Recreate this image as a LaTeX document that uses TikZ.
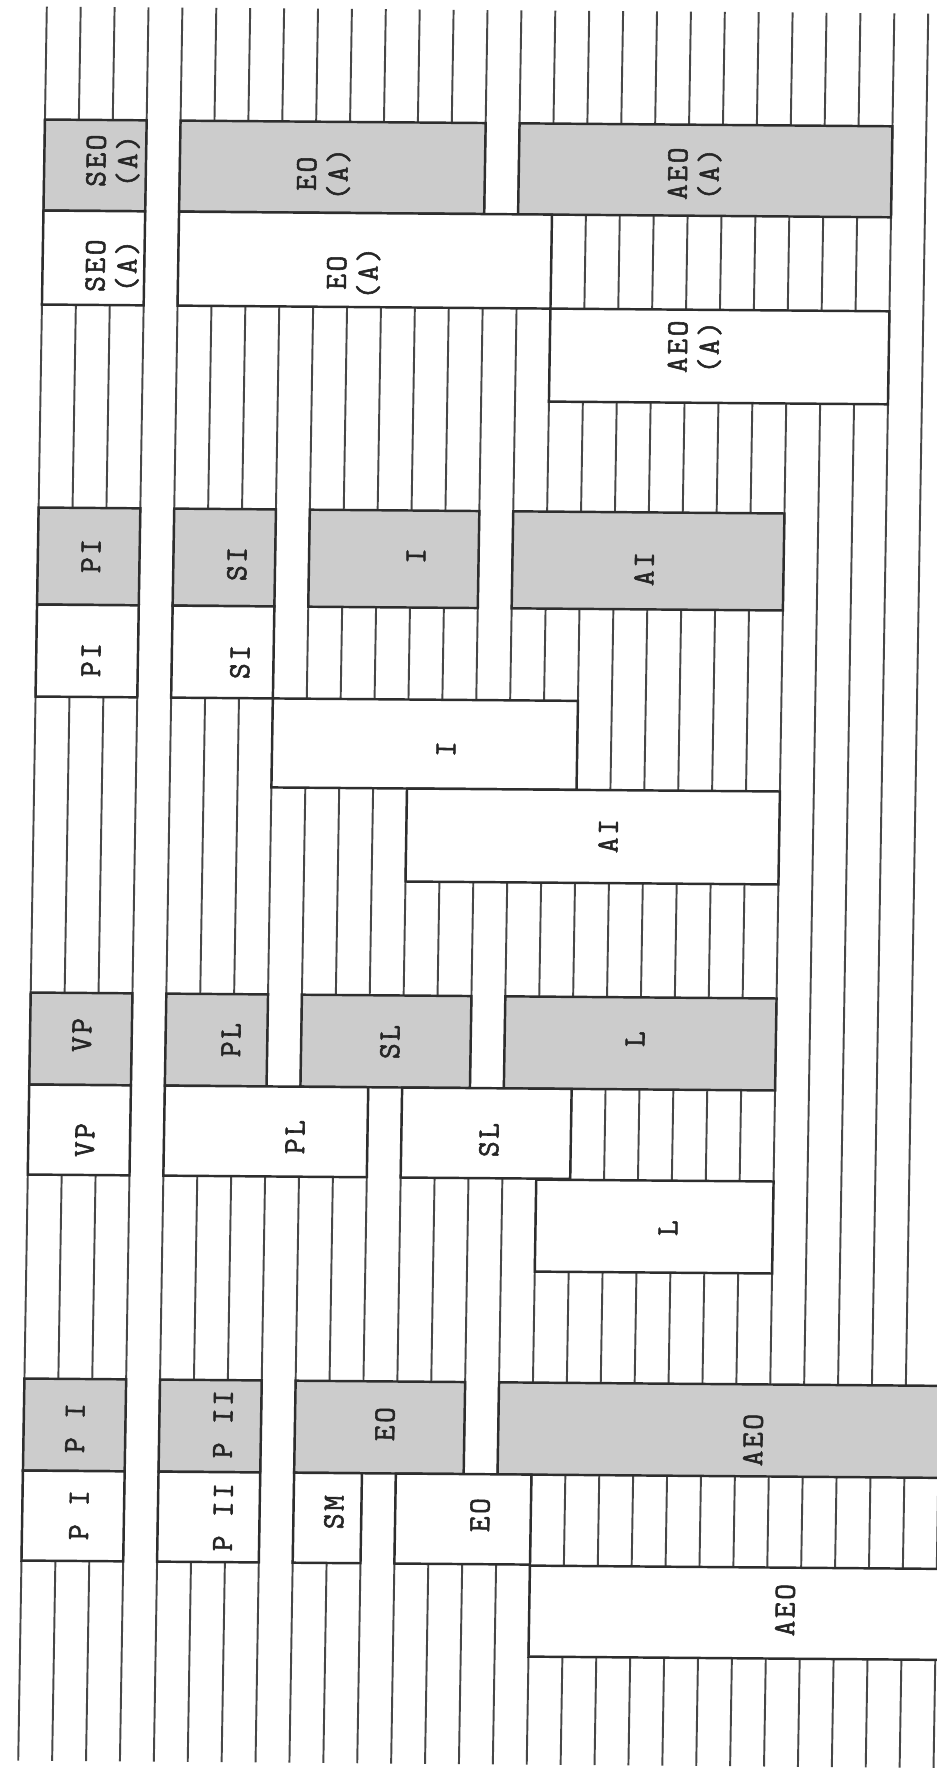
\documentclass[tikz,border=0pt]{standalone}
\usepackage{fontspec}
\newfontfamily\typew[LetterSpace=8,FakeBold=1.8]{Latin Modern Mono}
\tikzset{
  gridline/.style={draw=black!72, line width=1.1pt},
  shadebox/.style={draw=black!82, line width=1.4pt, fill=black!20},
  whitebox/.style={draw=black!82, line width=1.4pt, fill=white},
  lab/.style={font=\typew\fontsize{17.5pt}{18pt}\selectfont, text=black!85, rotate=89.1, align=center, inner sep=0pt}
}
\begin{document}
\begin{tikzpicture}[x=0.02cm,y=-0.02cm]
\useasboundingbox (0,0) rectangle (937,1776);
\clip (0,0) rectangle (937,1776);
\fill[white] (0,0) rectangle (937,1776);
\begin{scope}[cm={1,-0.008,0.0163,1,(0.2895cm,0.0749cm)}]
  % vertical ruled lines
  \foreach \k in {0,...,27}
    \draw[gridline] ({32.5+33.9*\k},10) -- ({32.5+33.9*\k},1764);
  % boxes: style / first line / last line / top / bottom
  \foreach \st/\a/\b/\t/\bt in {
    shadebox/0/3/123/214, shadebox/4/13/123/214, shadebox/14/25/123/214,
    whitebox/0/3/214/308, whitebox/4/15/214/308, whitebox/15/25/308/401,
    shadebox/0/3/511/608, shadebox/4/7/511/608, shadebox/8/13/511/608, shadebox/14/22/511/608,
    whitebox/0/3/608/700, whitebox/4/7/608/700, whitebox/7/16/700/789, whitebox/11/22/789/882,
    shadebox/0/3/996/1088, shadebox/4/7/996/1088, shadebox/8/13/996/1088, shadebox/14/22/996/1088,
    whitebox/0/3/1088/1178, whitebox/4/10/1088/1178, whitebox/11/16/1088/1178, whitebox/15/22/1179/1271,
    shadebox/0/3/1382/1474, shadebox/4/7/1382/1474, shadebox/8/13/1382/1474, shadebox/14/28.5/1382/1474,
    whitebox/0/3/1474/1564, whitebox/4/7/1474/1564, whitebox/8/10/1474/1564, whitebox/11/15/1474/1564,
    whitebox/15/28.5/1565/1656}
    \draw[\st] ({32.5+33.9*\a},\t) rectangle ({32.5+33.9*\b},\bt);
  % labels
  \node[lab] (l1) at (101.2,163.8) {SEO\\(A)};
  \node[lab] (l2) at (102.2,268.8) {SEO\\(A)};
  \node[lab] (l3) at (311.9,175.2) {EO\\(A)};
  \node[lab] (l4) at (682.9,172.2) {AEO\\(A)};
  \node[lab] (l5) at (343.5,273.9) {EO\\(A)};
  \node[lab] (l6) at (685.7,345.2) {AEO\\(A)};
  \node[lab] (l7) at (85.6,559) {PI};
  \node[lab] (l8) at (87.3,663) {PI};
  \node[lab] (l9) at (231.7,565.8) {SI};
  \node[lab] (l10) at (236.3,663.8) {SI};
  \node[lab] (l11) at (410.6,556.4) {I};
  \node[lab] (l12) at (638.8,567.6) {AI};
  \node[lab] (l13) at (443.7,749.2) {I};
  \node[lab] (l14) at (607.2,834.9) {AI};
  \node[lab] (l15) at (84.4,1038.1) {VP};
  \node[lab] (l16) at (89.1,1143.1) {VP};
  \node[lab] (l17) at (233.5,1041.9) {PL};
  \node[lab] (l18) at (299.1,1138.4) {PL};
  \node[lab] (l19) at (392.5,1042.6) {SL};
  \node[lab] (l20) at (493.1,1139.8) {SL};
  \node[lab] (l21) at (637.5,1037.7) {L};
  \node[lab] (l22) at (673.5,1226.4) {L};
  \node[lab] (l23) at (83.8,1431.1) {P I};
  \node[lab] (l24) at (89.2,1518.1) {P I};
  \node[lab] (l25) at (231.7,1426) {P II};
  \node[lab] (l26) at (233.3,1519) {P II};
  \node[lab] (l27) at (393.7,1424.7) {EO};
  \node[lab] (l28) at (344.2,1513.1) {SM};
  \node[lab] (l29) at (490.2,1514.9) {EO};
  \node[lab] (l30) at (762,1437.7) {AEO};
  \node[lab] (l31) at (796.8,1607.5) {AEO};
\end{scope}
\end{tikzpicture}
\end{document}
